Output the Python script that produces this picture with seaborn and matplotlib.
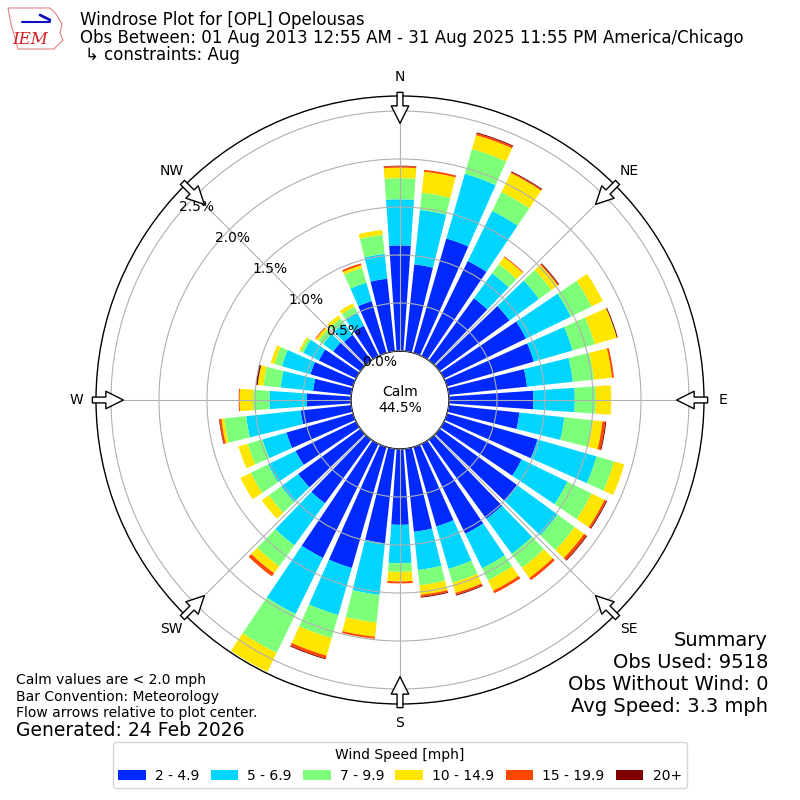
import numpy as np
import matplotlib
matplotlib.use("Agg")
import matplotlib.pyplot as plt
import seaborn as sns

# direction bins (deg from north) and speed bins
directions = np.arange(0, 360, 10)
speed_labels = ["2 - 4.9", "5 - 6.9", "7 - 9.9", "10 - 14.9", "15 - 19.9", "20+"]

# percent of observations in each direction / speed bin
spd_2_5 = [1.10, 0.91, 1.24, 1.10, 0.80, 0.90, 0.95, 0.94, 0.82, 0.88, 0.74, 0.98,
           0.90, 1.00, 1.02, 1.04, 0.86, 0.87, 0.79, 0.99, 1.31, 1.32, 0.82, 0.80,
           0.70, 0.72, 0.53, 0.46, 0.40, 0.46, 0.43, 0.35, 0.33, 0.35, 0.56, 0.76]
spd_5_7 = [0.48, 0.57, 0.70, 0.58, 0.32, 0.38, 0.52, 0.42, 0.48, 0.43, 0.47, 0.64,
           0.53, 0.52, 0.45, 0.40, 0.46, 0.40, 0.40, 0.54, 0.51, 0.65, 0.54, 0.22,
           0.32, 0.26, 0.57, 0.39, 0.34, 0.31, 0.18, 0.13, 0.15, 0.15, 0.20, 0.26]
spd_7_10 = [0.22, 0.18, 0.27, 0.22, 0.12, 0.16, 0.24, 0.24, 0.22, 0.22, 0.30, 0.19,
            0.28, 0.22, 0.18, 0.14, 0.15, 0.16, 0.09, 0.29, 0.25, 0.45, 0.27, 0.16,
            0.20, 0.16, 0.23, 0.17, 0.18, 0.08, 0.03, 0.06, 0.06, 0.07, 0.16, 0.20]
spd_10_15 = [0.11, 0.22, 0.15, 0.22, 0.09, 0.08, 0.13, 0.24, 0.19, 0.16, 0.10, 0.11,
             0.15, 0.12, 0.13, 0.12, 0.11, 0.10, 0.10, 0.15, 0.19, 0.22, 0.09, 0.09,
             0.12, 0.10, 0.03, 0.14, 0.06, 0.04, 0.02, 0.03, 0.04, 0.04, 0.03, 0.05]
spd_15_20 = [0.015, 0.02, 0.02, 0.01, 0.01, 0.01, 0.0, 0.0, 0.02, 0.0, 0.03, 0.0,
             0.02, 0.03, 0.03, 0.03, 0.02, 0.02, 0.02, 0.02, 0.03, 0.0, 0.04, 0.0,
             0.0, 0.0, 0.02, 0.01, 0.0, 0.0, 0.0, 0.01, 0.0, 0.0, 0.02, 0.0]
spd_20_up = [0.005, 0.0, 0.01, 0.01, 0.0, 0.01, 0.0, 0.01, 0.0, 0.0, 0.01, 0.0,
             0.01, 0.01, 0.0, 0.0, 0.01, 0.01, 0.0, 0.0, 0.01, 0.0, 0.0, 0.0,
             0.0, 0.0, 0.005, 0.0, 0.02, 0.0, 0.0, 0.0, 0.0, 0.0, 0.0, 0.0]

calm_pct = 44.5
r_ticks = [0.0, 0.5, 1.0, 1.5, 2.0, 2.5]
compass = ["N", "NE", "E", "SE", "S", "SW", "W", "NW"]

sns.set_style("white")
plt.rcParams.update({"text.color": "black", "xtick.color": "black",
                     "ytick.color": "black", "axes.labelcolor": "black"})
colors = sns.color_palette(plt.cm.jet(np.arange(1, 7) / 6.0))

fig = plt.figure(figsize=(8, 8), dpi=100)
ax = fig.add_axes([0.12, 0.12, 0.76, 0.76], projection="polar")
ax.set_theta_zero_location("N")
ax.set_theta_direction(-1)

theta = np.deg2rad(directions)
width = np.deg2rad(8)
series = [spd_2_5, spd_5_7, spd_7_10, spd_10_15, spd_15_20, spd_20_up]
bottom = np.zeros(len(directions))
handles = []
for vals, col, lab in zip(series, colors, speed_labels):
    vals = np.array(vals)
    b = ax.bar(theta, vals, width=width, bottom=bottom, color=col,
               edgecolor="none", label=lab, zorder=1)
    handles.append(b)
    bottom += vals

rmax = 2.656
ax.set_rorigin(-0.51)
ax.set_ylim(0, rmax)
ax.set_yticks(r_ticks)
ax.set_yticklabels([f"{t:.1f}%" for t in r_ticks], fontsize=10)
ax.set_rlabel_position(310)
ax.set_xticks(np.deg2rad(np.arange(0, 360, 45)))
ax.set_xticklabels(compass, fontsize=10)
ax.grid(True, color="#b0b0b0", lw=0.8)
ax.set_axisbelow(False)
for sp in ax.spines.values():
    sp.set_color("black")
    sp.set_linewidth(1.0)

# flow arrows on the outer ring
for d in np.arange(0, 360, 45):
    a = np.deg2rad(d)
    tail = (0.5 + 0.506 * np.sin(a), 0.5 + 0.506 * np.cos(a))
    tip = (0.5 + 0.455 * np.sin(a), 0.5 + 0.455 * np.cos(a))
    ax.annotate("", xy=tip, xytext=tail, xycoords="axes fraction",
                textcoords="axes fraction", annotation_clip=False,
                arrowprops=dict(arrowstyle="simple,head_length=0.9,head_width=0.9,tail_width=0.3",
                                fc="white", ec="black", lw=1, mutation_scale=14,
                                shrinkA=0, shrinkB=0), zorder=5)

ax.text(0.5, 0.5, f"Calm\n{calm_pct:.1f}%", transform=ax.transAxes,
        ha="center", va="center", fontsize=10)

# header
fig.text(0.1, 0.975, "Windrose Plot for [OPL] Opelousas", fontsize=12, va="center")
fig.text(0.1, 0.953, "Obs Between: 01 Aug 2013 12:55 AM - 31 Aug 2025 11:55 PM America/Chicago",
         fontsize=12, va="center")
fig.text(0.106, 0.931, "\u21b3 constraints: Aug", fontsize=12, va="center")

# rough IEM logo: state outline, blue mark, red letters
logo_x = np.array([8, 50, 56, 62, 60, 63, 57, 54, 18, 15, 11, 8]) / 800
logo_y = 1 - np.array([8, 8, 14, 24, 33, 40, 46, 49, 49, 38, 24, 8]) / 800
fig.add_artist(plt.Polygon(np.column_stack([logo_x, logo_y]), closed=True,
                           fill=False, ec="#e08080", lw=0.8))
fig.add_artist(plt.Line2D(np.array([22, 50]) / 800, 1 - np.array([22, 22]) / 800,
                          color="#1010c0", lw=1.5))
fig.add_artist(plt.Line2D(np.array([40, 50]) / 800, 1 - np.array([15, 20]) / 800,
                          color="#1010c0", lw=2))
fig.text(0.0375, 0.951, "IEM", fontsize=12, color="#d42020", family="DejaVu Serif",
         style="italic", ha="center", va="center")

# footer notes
fig.text(0.02, 0.150, "Calm values are < 2.0 mph", fontsize=10, va="center")
fig.text(0.02, 0.129, "Bar Convention: Meteorology", fontsize=10, va="center")
fig.text(0.02, 0.109, "Flow arrows relative to plot center.", fontsize=10, va="center")
fig.text(0.02, 0.087, "Generated: 24 Feb 2026", fontsize=13.5, va="center")

summary = ["Summary", "Obs Used: 9518", "Obs Without Wind: 0", "Avg Speed: 3.3 mph"]
for i, s in enumerate(summary):
    fig.text(0.96, 0.200 - i * 0.0275, s, fontsize=14, ha="right", va="center")

leg = fig.legend(handles, speed_labels, loc="lower center", ncol=6,
                 bbox_to_anchor=(0.5, 0.006), title="Wind Speed [mph]",
                 fontsize=10, title_fontsize=10, frameon=True, columnspacing=0.8,
                 handletextpad=0.65)

fig.savefig("out.png", dpi=100)
